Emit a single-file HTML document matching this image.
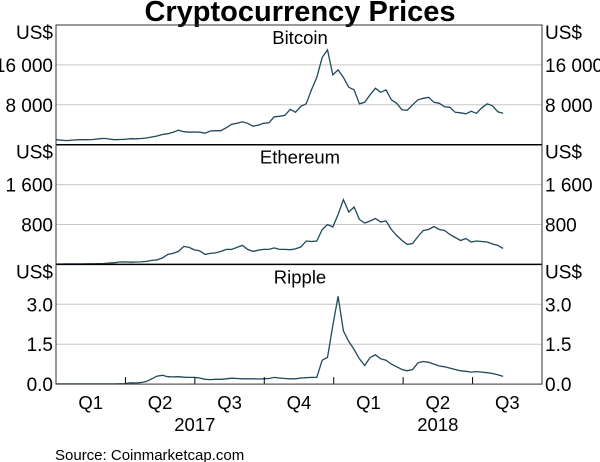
<!DOCTYPE html>
<html><head><meta charset="utf-8"><style>
body{margin:0;background:#fff}
svg{display:block;font-family:"Liberation Sans",Arial,sans-serif}
</style></head><body>
<svg id="c" width="600" height="462">
<text x="300" y="21" text-anchor="middle" font-size="29" font-weight="bold">Cryptocurrency Prices</text>
<g id="g"></g>
<text x="55" y="460" font-size="15">Source:   Coinmarketcap.com</text>
</svg>
<script>
const btc=[1000,900,830,920,980,1020,1000,1050,1180,1270,1150,1000,1040,1080,1200,1190,1250,1350,1550,1750,2050,2200,2500,2900,2600,2500,2550,2500,2300,2750,2800,2800,3400,4100,4300,4600,4300,3700,3900,4300,4400,5600,5700,5900,7100,6500,7700,8200,11000,13500,17500,19000,14000,15000,13500,11500,11000,8200,8500,10000,11300,10500,11000,9000,8300,7000,6900,8000,9000,9300,9500,8500,8300,7600,7500,6500,6400,6200,6700,6300,7400,8200,7800,6600,6300];
const eth=[8,9,10,11,10,11,12,13,15,19,29,35,48,50,44,48,50,60,80,90,130,200,220,260,360,340,290,270,200,220,230,260,300,300,340,380,300,260,285,300,300,330,300,300,295,310,350,470,460,470,700,800,750,1000,1300,1050,1150,900,830,870,920,850,870,700,580,480,400,420,560,680,700,760,700,680,600,540,480,520,450,470,460,450,410,380,320];
const xrp=[0.006,0.006,0.006,0.006,0.006,0.006,0.006,0.006,0.006,0.006,0.006,0.008,0.01,0.02,0.05,0.04,0.06,0.1,0.2,0.3,0.33,0.28,0.27,0.28,0.26,0.25,0.25,0.23,0.18,0.17,0.18,0.18,0.2,0.22,0.21,0.2,0.2,0.2,0.19,0.2,0.21,0.25,0.23,0.21,0.2,0.2,0.23,0.24,0.25,0.25,0.9,1.0,2.2,3.3,2.0,1.6,1.3,0.95,0.7,1.0,1.1,0.95,0.9,0.75,0.65,0.55,0.5,0.55,0.8,0.85,0.82,0.75,0.68,0.65,0.6,0.55,0.5,0.48,0.45,0.47,0.45,0.43,0.4,0.35,0.29];
const qLabels=["Q1","Q2","Q3","Q4","Q1","Q2","Q3"];
const years=["2017","2018"];
const panels=[
 {name:"Bitcoin",data:btc,max:24000,ticks:[8000,16000],labels:["8 000","16 000"]},
 {name:"Ethereum",data:eth,max:2400,ticks:[800,1600],labels:["800","1 600"]},
 {name:"Ripple",data:xrp,max:4.5,ticks:[0,1.5,3.0],labels:["0.0","1.5","3.0"]}
];
const L=56,R=542,T=25,PH=119.7;
const NS="http://www.w3.org/2000/svg";
const g=document.getElementById('g');
function mk(t,a,p){const e=document.createElementNS(NS,t);for(const k in a)e.setAttribute(k,a[k]);(p||g).appendChild(e);return e;}
const qw=(R-L)/7;
function xd(day){return L+day/(91.3*7)*(R-L);}
panels.forEach((p,i)=>{
 const top=T+i*PH,bot=top+PH;
 const y=v=>bot-v/p.max*PH;
 p.ticks.forEach((t,j)=>{
  if(t>0){const gl=mk('line',{x1:L,x2:R,y1:y(t),y2:y(t),stroke:'#c8c8c8','stroke-width':1});
  
  }
  const a=mk('text',{x:53,y:y(t)+7,'text-anchor':'end','font-size':19});a.textContent=p.labels[j];
  
  
  const b=mk('text',{x:545,y:y(t)+7,'font-size':19});b.textContent=p.labels[j];
  
  
 });
 [[53,'end'],[545,'start']].forEach(([x,an])=>{const u=mk('text',{x:x,y:top+14,'text-anchor':an,'font-size':19});u.textContent='US$';
 
 });
 const tt=mk('text',{x:300,y:top+19,'text-anchor':'middle','font-size':18.5});tt.textContent=p.name;
 
 
 const pts=p.data.map((v,k)=>xd(k*7).toFixed(1)+','+y(v).toFixed(1)).join(' ');
 const pl=mk('polyline',{points:pts,fill:'none',stroke:'#1f4a5a','stroke-width':1.3});
 
 
 if(i<2){const d=mk('line',{x1:L,x2:R,y1:bot,y2:bot,stroke:'#000','stroke-width':1.5});
 
 }
});
const B=T+3*PH;
for(let k=1;k<7;k++){const t=mk('line',{x1:L+k*qw,x2:L+k*qw,y1:B,y2:B-7,stroke:'#000'});
 
 }
qLabels.forEach((q,k)=>{const t=mk('text',{x:L+(k+0.5)*qw,y:B+25,'text-anchor':'middle','font-size':18.5});t.textContent=q;
 
 });
years.forEach((yr,k)=>{const t=mk('text',{x:L+(k===0?2:5.5)*qw,y:B+47,'text-anchor':'middle','font-size':18.5});t.textContent=yr;
 
 });
const f=mk('rect',{x:L,y:T,width:R-L,height:3*PH,fill:'none',stroke:'#333','stroke-width':1});


</script>
</body></html>
